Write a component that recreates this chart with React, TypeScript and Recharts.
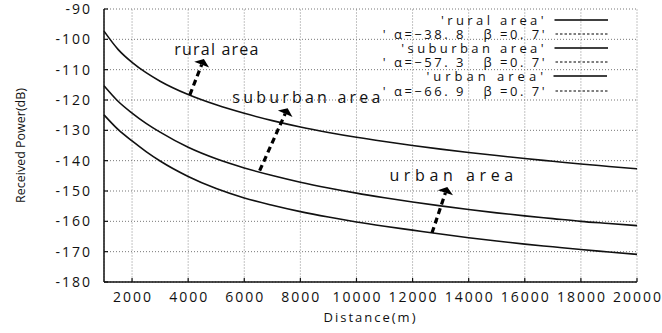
import React from 'react';
import {
  LineChart, Line, XAxis, YAxis, CartesianGrid, ReferenceLine, ReferenceDot, Legend,
} from 'recharts';

const distances = [1000, 1500, 2000, 2500, 3000, 4000, 5000, 6000, 7000, 8000, 9000, 10000, 11000, 12000, 13000, 14000, 15000, 16000, 17000, 18000, 19000, 20000];
const rural = [-97.3, -103.3, -107.6, -111.0, -113.8, -118.2, -121.6, -124.4, -126.8, -128.9, -130.7, -132.3, -133.7, -135.0, -136.2, -137.3, -138.3, -139.3, -140.2, -141.1, -141.9, -142.7];
const suburban = [-115.3, -120.4, -124.3, -127.7, -130.6, -135.6, -139.4, -142.4, -144.9, -147.1, -149.0, -150.7, -152.2, -153.6, -154.9, -156.1, -157.2, -158.2, -159.1, -160.0, -160.7, -161.4];
const urban = [-124.9, -129.7, -133.5, -137.0, -140.1, -145.2, -149.2, -152.3, -154.7, -156.8, -158.6, -160.2, -161.6, -162.9, -164.2, -165.4, -166.5, -167.5, -168.4, -169.3, -170.1, -170.9];

const xTicks = [2000, 4000, 6000, 8000, 10000, 12000, 14000, 16000, 18000, 20000];
const yTicks = [-180, -170, -160, -150, -140, -130, -120, -110, -100, -90];

const legendRows = [
  { label: "'rural area'", dashed: false, ls: 3.4 },
  { label: "' α=−38. 8   β =0. 7'", dashed: true, ls: 2.5 },
  { label: "'suburban area'", dashed: false, ls: 3.4 },
  { label: "' α=−57. 3   β =0. 7'", dashed: true, ls: 2.5 },
  { label: "'urban area'", dashed: false, ls: 4.0 },
  { label: "' α=−66. 9   β =0. 7'", dashed: true, ls: 2.5 },
];

const areaLabels = [
  { text: 'rural area', d: 5006, v: -105.2, ls: 1.2 },
  { text: 'suburban area', d: 8213, v: -121.0, ls: 3.2 },
  { text: 'urban area', d: 13381, v: -146.8, ls: 4.6 },
];

const arrows = [
  { from: [4061, -118.3], to: [4560, -106.5] },
  { from: [6549, -143.3], to: [7547, -122.7] },
  { from: [12693, -163.8], to: [13238, -148.7] },
];

const data = distances.map((d, i) => ({ d, rural: rural[i], suburban: suburban[i], urban: urban[i] }));

const FONT = "'Open Sans', sans-serif";
const TICK_LS = 2;
const tickStyle = { fill: '#111', fontSize: 14, fontFamily: FONT, letterSpacing: TICK_LS };

const ArrowShape = (props: any) => {
  const { x1, y1, x2, y2 } = props;
  const dx = x2 - x1;
  const dy = y2 - y1;
  const len = Math.sqrt(dx * dx + dy * dy) || 1;
  const ux = dx / len;
  const uy = dy / len;
  const L = 6;
  const W = 8;
  const bx = x2 - ux * L;
  const by = y2 - uy * L;
  const px = -uy;
  const py = ux;
  return (
    <g>
      <line x1={x1} y1={y1} x2={bx} y2={by} stroke="#000" strokeWidth={3.2} strokeDasharray="6 4" />
      <polygon points={`${x2},${y2} ${bx + px * W},${by + py * W} ${bx - px * W},${by - py * W}`} fill="#000" />
    </g>
  );
};

const LegendContent = () => (
  <div style={{ fontFamily: FONT, fontSize: 13, color: '#111' }}>
    {legendRows.map((r, i) => (
      <div key={i} style={{ display: 'flex', alignItems: 'center', height: 14.1 }}>
        <span style={{ width: 180, textAlign: 'right', whiteSpace: 'pre', letterSpacing: r.ls, lineHeight: '14px', marginRight: -r.ls }}>
          {r.label}
        </span>
        <svg width={64} height={6}>
          <line x1={10.5} y1={3} x2={64} y2={3} stroke="#000" strokeWidth={r.dashed ? 1 : 1.5} strokeDasharray={r.dashed ? '2.5 2' : undefined} />
        </svg>
      </div>
    ))}
  </div>
);

export default function App() {
  return (
    <div style={{ position: 'absolute', left: 0, top: 0 }}>
      <LineChart width={662} height={333} data={data} margin={{ top: 9, right: 25, left: 0, bottom: 0 }}>
        <CartesianGrid horizontal={false} stroke="#c4c4c4" strokeDasharray="2 1" />
        <CartesianGrid vertical={false} stroke="#777" strokeDasharray="1 2" />
        <XAxis
          dataKey="d"
          type="number"
          domain={[1000, 20000]}
          ticks={xTicks}
          interval={0}
          height={51}
          tickSize={-4}
          tickMargin={14}
          tick={{ ...tickStyle, dx: TICK_LS / 2 }}
          axisLine={{ stroke: '#111', strokeWidth: 1.5 }}
          tickLine={{ stroke: '#111', strokeWidth: 1.2 }}
          label={{
            content: (p: any) => {
              const vb = p.viewBox || {};
              return (
                <text x={vb.x + vb.width / 2} y={vb.y + vb.height - 11} textAnchor="middle" fontFamily={FONT} fontSize={13} letterSpacing={2} fill="#111">
                  Distance(m)
                </text>
              );
            },
          }}
        />
        <XAxis
          xAxisId="top"
          orientation="top"
          dataKey="d"
          type="number"
          domain={[1000, 20000]}
          ticks={xTicks}
          height={0}
          tickSize={-4}
          tickFormatter={() => ''}
          axisLine={{ stroke: '#111', strokeWidth: 1.5 }}
          tickLine={{ stroke: '#111', strokeWidth: 1.2 }}
        />
        <YAxis
          type="number"
          domain={[-180, -90]}
          ticks={yTicks}
          interval={0}
          width={104}
          tickSize={-4}
          tickMargin={16}
          tick={tickStyle}
          axisLine={{ stroke: '#111', strokeWidth: 1.5 }}
          tickLine={{ stroke: '#111', strokeWidth: 1.2 }}
          label={{
            content: (p: any) => {
              const vb = p.viewBox || {};
              const cx = vb.x + 20;
              const cy = vb.y + vb.height / 2;
              return (
                <text x={cx} y={cy} transform={`rotate(-90 ${cx} ${cy})`} textAnchor="middle" dominantBaseline="central" fontFamily={FONT} fontSize={12.5} fill="#111">
                  Received Power(dB)
                </text>
              );
            },
          }}
        />
        <YAxis
          yAxisId="right"
          orientation="right"
          type="number"
          domain={[-180, -90]}
          ticks={yTicks}
          width={0}
          tickSize={-4}
          tickFormatter={() => ''}
          axisLine={{ stroke: '#111', strokeWidth: 1.5 }}
          tickLine={{ stroke: '#111', strokeWidth: 1.2 }}
        />
        <Line dataKey="rural" type="monotone" stroke="#111" strokeWidth={1.6} dot={false} isAnimationActive={false} />
        <Line dataKey="suburban" type="monotone" stroke="#111" strokeWidth={1.6} dot={false} isAnimationActive={false} />
        <Line dataKey="urban" type="monotone" stroke="#111" strokeWidth={1.6} dot={false} isAnimationActive={false} />
        {arrows.map((a, i) => (
          <ReferenceLine
            key={`arrow-${i}`}
            segment={[{ x: a.from[0], y: a.from[1] }, { x: a.to[0], y: a.to[1] }]}
            shape={ArrowShape}
            ifOverflow="visible"
          />
        ))}
        {areaLabels.map((l, i) => (
          <ReferenceDot
            key={`lab-${i}`}
            x={l.d}
            y={l.v}
            r={0}
            fill="none"
            stroke="none"
            ifOverflow="visible"
            label={{
              content: (p: any) => {
                const vb = p.viewBox || {};
                return (
                  <text x={vb.x + (vb.width || 0) / 2 + l.ls / 2} y={vb.y + (vb.height || 0) / 2} textAnchor="middle" fontFamily={FONT} fontSize={16} letterSpacing={l.ls} fill="#111">
                    {l.text}
                  </text>
                );
              },
            }}
          />
        ))}
        <Legend
          layout="vertical"
          align="center"
          verticalAlign="middle"
          content={<LegendContent />}
          wrapperStyle={{ position: 'absolute', top: 13, left: 367, width: 250 }}
        />
      </LineChart>
    </div>
  );
}
